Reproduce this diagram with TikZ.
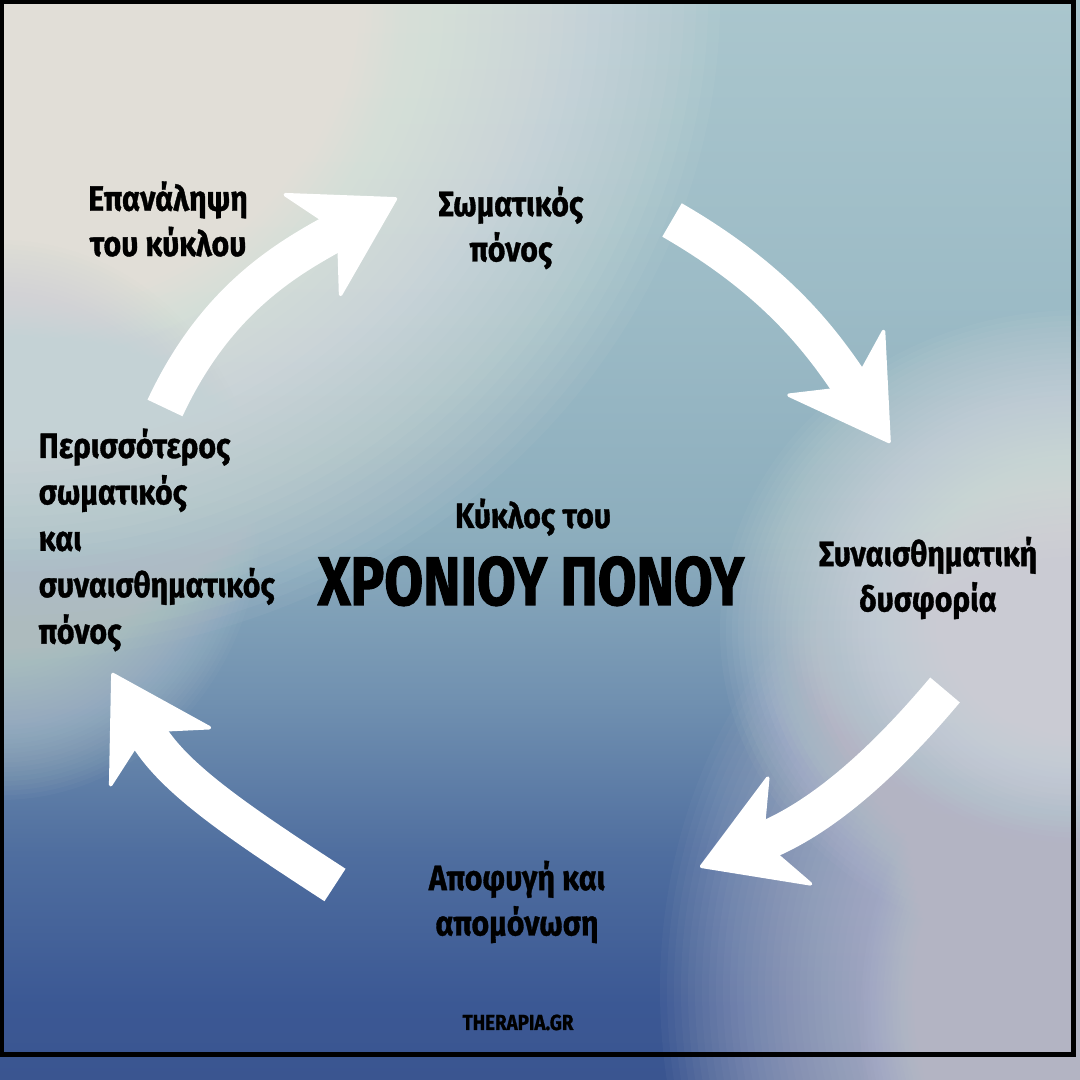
\documentclass[tikz,border=0pt]{standalone}
\usepackage{fontspec}
\setmainfont{Fira Sans}
\newfontfamily\lblfont{Fira Sans}[FakeStretch=0.86,FakeBold=1]
\newfontfamily\titlefont{Fira Sans}[FakeStretch=0.82,FakeBold=1.5]
\usetikzlibrary{arrows.meta}

% Background colours
\definecolor{bg0}{HTML}{3A5590}
\definecolor{bg1}{HTML}{3B5894}
\definecolor{bg2}{HTML}{4F6E9F}
\definecolor{bg3}{HTML}{7090B0}
\definecolor{bg4}{HTML}{8CADBD}
\definecolor{bg5}{HTML}{9CBBC6}
\definecolor{bg6}{HTML}{AAC6CD}
\definecolor{glowcream}{HTML}{F8F5EE}
\definecolor{glowleft}{HTML}{C4D2D5}
\definecolor{glowright}{HTML}{EAEBEA}
\definecolor{glowlilac}{HTML}{CACBDA}

% the path is fitted to the 25bp--75bp band of the shading
\pgfdeclareverticalshading{bgshade}{100bp}{color(0bp)=(bg0); color(25bp)=(bg0); color(28.5bp)=(bg1); color(35.5bp)=(bg2); color(42.5bp)=(bg3); color(50bp)=(bg4); color(61bp)=(bg5); color(75bp)=(bg6); color(100bp)=(bg6)}

% soft glow: colour, centre, x radius, y radius
\newcommand{\softglow}[4]{%
  \foreach \k in {1,...,60}
    \fill[#1, fill opacity=0.045] (#2) ellipse [x radius={#3/60*\k}, y radius={#4/60*\k}];
}

\tikzset{
  lbl/.style={font=\lblfont\bfseries\fontsize{10}{12.9}\selectfont, align=center, inner sep=0pt},
  brush/.style={white, line width=11pt, -{Stealth[length=29pt,width=35pt,inset=9pt,line width=1pt,round]}},
}

\begin{document}
\begin{tikzpicture}[x=0.01cm, y=0.01cm]
        \useasboundingbox (0,0) rectangle (1080,1080);

        % Background with soft glows
        \shade[shading=bgshade] (0,0) rectangle (1080,1080);
        \begin{scope}
          \clip (0,0) rectangle (1080,1080);
          \softglow{glowcream}{0,1080}{720}{660}
          \softglow{glowcream}{0,1080}{400}{360}
          \softglow{glowleft}{0,560}{260}{280}
          \softglow{glowright}{1080,450}{360}{320}
          \softglow{glowlilac}{1080,90}{420}{500}
          \softglow{glowlilac}{1080,60}{220}{300}
        \end{scope}

        % Frame
        \draw[line width=1.3pt] (1.5,25.5) rectangle (1073.5,1078.5);

        % Labels of the cycle
        \node[lbl] (rep) at (168,861) {Επανάληψη\\του κύκλου};
        \node[lbl] (pain) at (511,852) {Σωματικός\\πόνος};
        \node[lbl] (dys) at (928,502) {Συναισθηματική\\δυσφορία};
        \node[lbl] (avoid) at (517,178) {Αποφυγή και\\απομόνωση};
        \node[lbl, align=left, anchor=west, font=\lblfont\bfseries\fontsize{10}{13.2}\selectfont] (more) at (38,540)
          {Περισσότερος\\σωματικός\\και\\συναισθηματικός\\πόνος};

        % Title in the middle
        \node[lbl, anchor=base] (cycle) at (533,552) {Κύκλος του};
        \node[anchor=base, inner sep=0pt, font=\titlefont\bfseries\fontsize{19.5}{20}\selectfont] (title) at (531,475) {ΧΡΟΝΙΟΥ ΠΟΝΟΥ};
        \node[anchor=base, inner sep=0pt, font=\lblfont\bfseries\fontsize{6.2}{7}\selectfont] (site) at (518,50) {THERAPIA.GR};

        % Arrow ends
        \coordinate (a1) at (165,672);
        \coordinate (a2) at (397,882);
        \coordinate (b1) at (672,860);
        \coordinate (b2) at (890,637);
        \coordinate (c1) at (945,390);
        \coordinate (c2) at (700,213);
        \coordinate (d1) at (335,195);
        \coordinate (d2) at (112,407);

        % Brush arrows
        \draw[brush] (a1) to[out=65,in=209] (a2);
        \draw[brush] (b1) to[out=-30,in=124] (b2);
        \draw[brush] (c1) to[out=230,in=22] (c2);
        \draw[brush] (d1) to[out=147,in=-60] (d2);

\end{tikzpicture}
\end{document}
